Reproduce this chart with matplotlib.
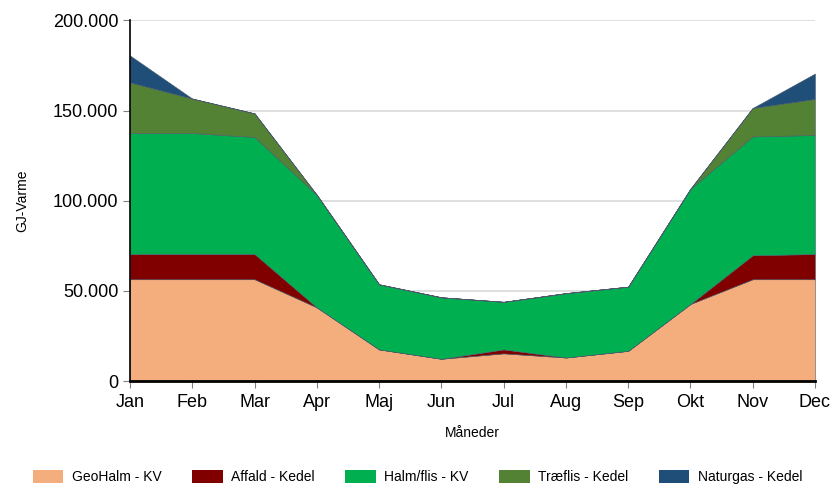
import numpy as np
import matplotlib
matplotlib.use("Agg")
import matplotlib.pyplot as plt
from matplotlib.ticker import FuncFormatter
from matplotlib.patches import Patch

plt.rcParams['font.family'] = ['Liberation Sans', 'DejaVu Sans']

# Data (GJ per month)
months = ['Jan', 'Feb', 'Mar', 'Apr', 'Maj', 'Jun', 'Jul', 'Aug', 'Sep', 'Okt', 'Nov', 'Dec']
geohalm = [56500, 56500, 56500, 40900, 17600, 12400, 15400, 13100, 16800, 42800, 56500, 56500]
affald = [14000, 14000, 14000, 0, 0, 0, 2200, 0, 0, 0, 13300, 14000]
halm_flis = [67100, 67100, 64900, 62400, 36100, 34100, 26400, 35700, 35600, 63900, 65900, 66000]
traeflis = [28100, 19100, 13100, 0, 0, 0, 0, 0, 0, 0, 15800, 20000]
naturgas = [14900, 0, 0, 0, 0, 0, 0, 0, 0, 0, 0, 14100]

labels = ['GeoHalm - KV', 'Affald - Kedel', 'Halm/flis - KV', 'Træflis - Kedel', 'Naturgas - Kedel']
colors = ['#F4AE7E', '#800000', '#00B050', '#548235', '#1F4E79']

fig = plt.figure(figsize=(8.35, 4.88), dpi=100)
ax = fig.add_axes([0.1557, 0.219, 0.8203, 0.739])

x = np.arange(len(months))
series = [geohalm, affald, halm_flis, traeflis, naturgas]
base = np.zeros(len(months))
for vals, c in zip(series, colors):
    top = base + np.array(vals)
    ax.fill_between(x, base, top, color=c, linewidth=0.4, edgecolor='#4a5a6a', zorder=2)
    base = top

ax.set_xlim(0, 11)
ax.set_ylim(0, 200000)
ax.set_yticks([0, 50000, 100000, 150000, 200000])
ax.yaxis.set_major_formatter(FuncFormatter(lambda v, p: f'{int(v):,}'.replace(',', '.')))
ax.set_xticks(x)
ax.set_xticklabels(months)
ax.grid(axis='y', color='#d9d9d9', linewidth=1.2, zorder=0)
ax.set_axisbelow(True)

for s in ['top', 'right']:
    ax.spines[s].set_visible(False)
ax.spines['left'].set_linewidth(1.2)
ax.spines['bottom'].set_linewidth(2)
ax.spines['left'].set_zorder(3)
ax.spines['bottom'].set_zorder(3)
ax.tick_params(axis='both', labelsize=13, length=5, color='#808080')
ax.tick_params(axis='x', pad=4)

ax.set_ylabel('GJ-Varme', fontsize=10, labelpad=17)
ax.set_xlabel('Måneder', fontsize=10, labelpad=11)

handles = [Patch(facecolor=c, label=l) for c, l in zip(colors, labels)]
fig.legend(handles=handles, loc='center', bbox_to_anchor=(0.5, 0.022), ncol=5, frameon=False,
           fontsize=10, handlelength=2.2, handleheight=1.1, columnspacing=2.2, handletextpad=0.6)

fig.savefig('out.png', dpi=100)
